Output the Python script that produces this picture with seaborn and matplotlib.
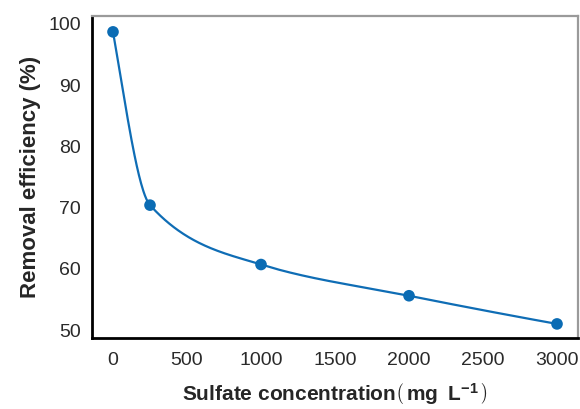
import numpy as np
import pandas as pd
import seaborn as sns
import matplotlib.pyplot as plt

# data
sulfate = [0, 250, 1000, 2000, 3000]
removal = [98.7, 70.4, 60.7, 55.6, 51.0]
x_ticks = [0, 500, 1000, 1500, 2000, 2500, 3000]
y_ticks = [50, 60, 70, 80, 90, 100]

sns.set_style("white")
plt.rcParams['font.family'] = ['Liberation Sans', 'DejaVu Sans']
plt.rcParams['mathtext.fontset'] = 'custom'
plt.rcParams['mathtext.rm'] = 'Liberation Sans:bold'
plt.rcParams['mathtext.bf'] = 'Liberation Sans:bold'
plt.rcParams['mathtext.it'] = 'Liberation Sans:bold'


def pchip(x, y, xs):
    # monotone cubic through the measured points (shape of the smooth line)
    x = np.asarray(x, float)
    y = np.asarray(y, float)
    h = np.diff(x)
    d = np.diff(y) / h
    m = np.zeros_like(y)
    for k in range(1, len(x) - 1):
        if d[k - 1] * d[k] > 0:
            w1 = 2 * h[k] + h[k - 1]
            w2 = h[k] + 2 * h[k - 1]
            m[k] = (w1 + w2) / (w1 / d[k - 1] + w2 / d[k])
    m[0] = ((2 * h[0] + h[1]) * d[0] - h[0] * d[1]) / (h[0] + h[1])
    if m[0] * d[0] <= 0:
        m[0] = 0
    m[-1] = ((2 * h[-1] + h[-2]) * d[-1] - h[-1] * d[-2]) / (h[-1] + h[-2])
    if m[-1] * d[-1] <= 0:
        m[-1] = 0
    idx = np.clip(np.searchsorted(x, xs) - 1, 0, len(x) - 2)
    t = (xs - x[idx]) / h[idx]
    h00 = 2 * t**3 - 3 * t**2 + 1
    h10 = t**3 - 2 * t**2 + t
    h01 = -2 * t**3 + 3 * t**2
    h11 = t**3 - t**2
    return (h00 * y[idx] + h10 * h[idx] * m[idx]
            + h01 * y[idx + 1] + h11 * h[idx] * m[idx + 1])


points = pd.DataFrame({'Sulfate': sulfate, 'Removal': removal})
xs = np.linspace(min(sulfate), max(sulfate), 600)
curve = pd.DataFrame({'Sulfate': xs, 'Removal': pchip(sulfate, removal, xs)})

fig = plt.figure(figsize=(5.8, 4.09), dpi=100)
ax = fig.add_axes([0.1586, 0.1736, 0.8380, 0.7874])

blue = '#0f6db5'
sns.lineplot(data=curve, x='Sulfate', y='Removal', ax=ax, color=blue, lw=1.6)
sns.scatterplot(data=points, x='Sulfate', y='Removal', ax=ax, color='#0b6cb4',
                s=70, edgecolor='none', zorder=3)

ax.set_xlim(-142, 3142)
ax.set_ylim(48.7, 101.3)
ax.set_xticks(x_ticks)
ax.set_yticks(y_ticks)
ax.tick_params(axis='both', direction='out', length=5, width=1.3,
               labelsize=14, colors='black', labelcolor='#2a2a2a')
ax.tick_params(axis='x', pad=5)
ax.tick_params(axis='y', pad=3)

for s in ['left', 'bottom']:
    ax.spines[s].set_color('black')
    ax.spines[s].set_linewidth(2)
for s in ['top', 'right']:
    ax.spines[s].set_color('#9a9a9a')
    ax.spines[s].set_linewidth(1.6)

ax.set_xlabel(r'Sulfate concentration$\left(\,\mathrm{mg\;\;L^{-1}}\,\right)$',
              fontsize=15, fontweight='bold', labelpad=9)
ax.set_ylabel('Removal efficiency (%)', fontsize=16, fontweight='bold', labelpad=5)

fig.savefig('out.png', dpi=100)
